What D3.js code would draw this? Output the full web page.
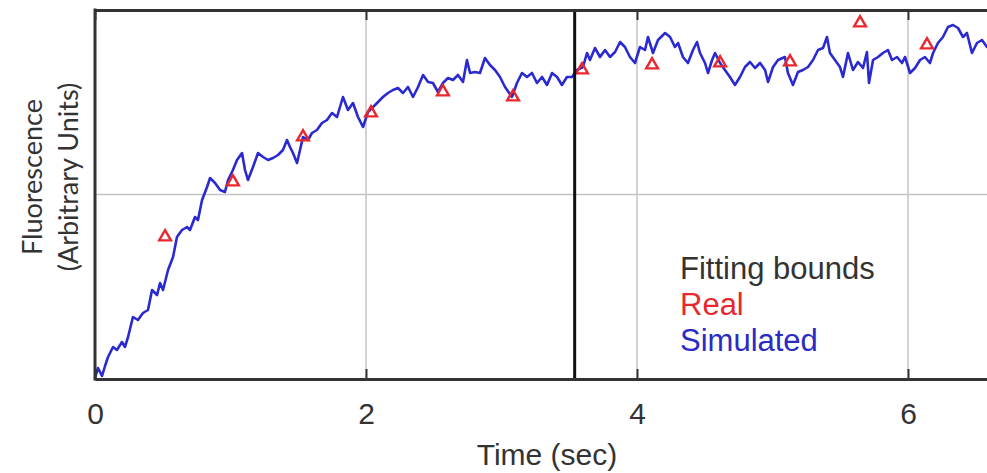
<!DOCTYPE html>
<html>
  <head>
    <meta charset="utf-8" />
    <title>Fluorescence vs time</title>
    <style>
      body { margin: 0; background: #fff; }
      svg { display: block; }
      .tick text { font-family: "Liberation Sans", Arial, sans-serif; }
    </style>
  </head>
  <body>
    <svg width="987" height="473"></svg>

    <script type="text/javascript" src="https://d3js.org/d3.v7.min.js"></script>
    <script type="text/javascript">
      // simulated trace (time in sec, fluorescence in arbitrary units)
      const simTime = [0, 0.022, 0.052, 0.074, 0.096, 0.133, 0.162, 0.199, 0.221, 0.244,
        0.280, 0.317, 0.354, 0.391, 0.421, 0.458, 0.480, 0.502, 0.539, 0.576,
        0.605, 0.642, 0.679, 0.701, 0.738, 0.760, 0.790, 0.827, 0.849, 0.886,
        0.923, 0.959, 0.982, 1.018, 1.048, 1.085, 1.107, 1.129, 1.166, 1.203,
        1.240, 1.277, 1.314, 1.351, 1.387, 1.417, 1.439, 1.461, 1.491, 1.513,
        1.535, 1.572, 1.601, 1.638, 1.675, 1.712, 1.749, 1.786, 1.830, 1.867,
        1.904, 1.941, 1.978, 2.015, 2.052, 2.089, 2.125, 2.162, 2.199, 2.236,
        2.273, 2.310, 2.347, 2.384, 2.421, 2.458, 2.494, 2.531, 2.568, 2.605,
        2.642, 2.679, 2.716, 2.745, 2.768, 2.804, 2.841, 2.878, 2.915, 2.952,
        2.989, 3.026, 3.077, 3.114, 3.151, 3.188, 3.225, 3.262, 3.299, 3.336,
        3.373, 3.410, 3.446, 3.483, 3.520, 3.557, 3.601, 3.631, 3.653, 3.690,
        3.727, 3.764, 3.801, 3.838, 3.875, 3.911, 3.948, 3.985, 4.022, 4.059,
        4.081, 4.118, 4.155, 4.207, 4.244, 4.280, 4.303, 4.339, 4.376, 4.413,
        4.443, 4.465, 4.502, 4.524, 4.554, 4.576, 4.613, 4.649, 4.686, 4.723,
        4.760, 4.797, 4.834, 4.871, 4.908, 4.945, 4.967, 5.004, 5.041, 5.092,
        5.114, 5.151, 5.188, 5.225, 5.262, 5.299, 5.336, 5.373, 5.402, 5.424,
        5.461, 5.498, 5.520, 5.557, 5.594, 5.631, 5.668, 5.697, 5.712, 5.742,
        5.779, 5.815, 5.852, 5.882, 5.919, 5.956, 5.978, 6.015, 6.052, 6.089,
        6.125, 6.162, 6.185, 6.221, 6.258, 6.295, 6.332, 6.369, 6.406, 6.435,
        6.472, 6.509, 6.546, 6.583, 6.620];
      const simValue = [1, 11, 3, 13, 22, 32, 29, 37, 32, 42,
        62, 59, 66, 69, 89, 84, 96, 89, 109, 122,
        142, 149, 152, 149, 162, 159, 179, 192, 201, 196,
        189, 187, 199, 209, 219, 226, 209, 199, 212, 226,
        222, 219, 221, 224, 229, 239, 232, 226, 216, 229,
        242, 239, 246, 249, 256, 259, 266, 262, 282, 269,
        276, 262, 252, 267, 272, 277, 282, 286, 289, 291,
        286, 292, 282, 292, 304, 297, 296, 287, 296, 301,
        299, 304, 297, 319, 306, 307, 306, 321, 314, 309,
        302, 292, 282, 296, 306, 302, 306, 296, 302, 294,
        306, 302, 294, 302, 302, 309, 312, 326, 319, 331,
        322, 329, 322, 327, 337, 332, 322, 316, 332, 329,
        342, 326, 339, 346, 342, 332, 336, 322, 316, 329,
        337, 326, 316, 306, 319, 326, 316, 309, 302, 294,
        302, 312, 317, 311, 316, 309, 297, 312, 319, 322,
        306, 294, 307, 309, 312, 319, 329, 331, 342, 326,
        319, 312, 302, 326, 309, 317, 311, 327, 296, 319,
        322, 326, 329, 319, 322, 316, 322, 306, 311, 319,
        322, 316, 326, 336, 342, 352, 354, 351, 342, 346,
        326, 336, 339, 332, 334];

      // measured points
      const realTime = [0.517, 1.018, 1.535, 2.037, 2.568, 3.085, 3.594, 4.111, 4.613, 5.129, 5.646, 6.140];
      const realValue = [142, 197, 242, 266, 287, 282, 309, 314, 316, 317, 356, 334];

      const fittingBounds = [3.54];
      const xTicks = [0, 2, 4, 6];
      const yGrid = [184.5];
      const legendLabels = ["Fitting bounds", "Real", "Simulated"];
      const legendColors = ["#333333", "#e8282e", "#2a2ac4"];

      const svg = d3.select("svg");
      const x = d3.scaleLinear().domain([0, 7]).range([95, 1043.5]);
      const y = d3.scaleLinear().domain([0, 369]).range([379, 10]);
      const font = '"Liberation Sans", Arial, sans-serif';

      // grid
      svg.append("g").selectAll("line")
        .data(xTicks.filter(d => d > 0))
        .join("line")
        .attr("x1", d => x(d)).attr("x2", d => x(d))
        .attr("y1", y(369)).attr("y2", y(0))
        .attr("stroke", "#c4c4c4").attr("stroke-width", 1.5);
      svg.append("g").selectAll("line")
        .data(yGrid)
        .join("line")
        .attr("x1", x(0)).attr("x2", 987)
        .attr("y1", d => y(d)).attr("y2", d => y(d))
        .attr("stroke", "#c4c4c4").attr("stroke-width", 1.5);

      // simulated trace
      const line = d3.line()
        .x((d, i) => x(simTime[i]))
        .y(d => y(d));
      svg.append("path")
        .datum(simValue)
        .attr("fill", "none")
        .attr("stroke", "#2a2ad0")
        .attr("stroke-width", 2.6)
        .attr("stroke-linejoin", "round")
        .attr("d", line);

      // real points
      svg.append("g").selectAll("path")
        .data(realValue)
        .join("path")
        .attr("transform", (d, i) => `translate(${x(realTime[i])},${y(d)})`)
        .attr("d", d3.symbol(d3.symbolTriangle, 60))
        .attr("fill", "none")
        .attr("stroke", "#e8282e")
        .attr("stroke-width", 2.4);

      // fitting bounds
      svg.append("g").selectAll("line")
        .data(fittingBounds)
        .join("line")
        .attr("x1", d => x(d)).attr("x2", d => x(d))
        .attr("y1", y(369)).attr("y2", y(0))
        .attr("stroke", "#111").attr("stroke-width", 3);

      // axes frame
      const xAxis = svg.append("g")
        .attr("transform", `translate(0,${y(0)})`)
        .call(d3.axisBottom(x).tickValues(xTicks).tickFormat(d3.format("d"))
          .tickSizeInner(-10).tickSizeOuter(0).tickPadding(24));
      xAxis.select(".domain").attr("stroke", "#333").attr("stroke-width", 3);
      xAxis.selectAll(".tick line").attr("stroke", "#333").attr("stroke-width", 2);
      xAxis.selectAll(".tick text")
        .attr("fill", "#333")
        .style("font-size", "30px");

      const topAxis = svg.append("g")
        .attr("transform", `translate(0,${y(369)})`)
        .call(d3.axisTop(x).tickValues(xTicks).tickSizeInner(-10).tickSizeOuter(0).tickFormat(""));
      topAxis.select(".domain").attr("stroke", "#333").attr("stroke-width", 3);
      topAxis.selectAll(".tick line").attr("stroke", "#333").attr("stroke-width", 2);

      svg.append("line")
        .attr("x1", x(0)).attr("x2", x(0))
        .attr("y1", y(369) - 1.5).attr("y2", y(0) + 1.5)
        .attr("stroke", "#333").attr("stroke-width", 3);

      // axis labels
      svg.append("text")
        .attr("x", 547).attr("y", 465)
        .attr("text-anchor", "middle")
        .attr("fill", "#333")
        .style("font-family", font).style("font-size", "30px")
        .text("Time (sec)");

      const yLabel = svg.append("text")
        .attr("transform", "translate(33,177) rotate(-90)")
        .attr("text-anchor", "middle")
        .attr("fill", "#333")
        .style("font-family", "Lato, sans-serif").style("font-size", "27px");
      yLabel.append("tspan").attr("x", 0).attr("y", 9).text("Fluorescence");
      yLabel.append("tspan").attr("x", 0).attr("y", 45).text("(Arbitrary Units)");

      // legend
      svg.append("g").selectAll("text")
        .data(legendLabels)
        .join("text")
        .attr("x", 680)
        .attr("y", (d, i) => 279 + i * 36)
        .attr("fill", (d, i) => legendColors[i])
        .style("font-family", font).style("font-size", "31px")
        .text(d => d);
    </script>
  </body>
</html>
